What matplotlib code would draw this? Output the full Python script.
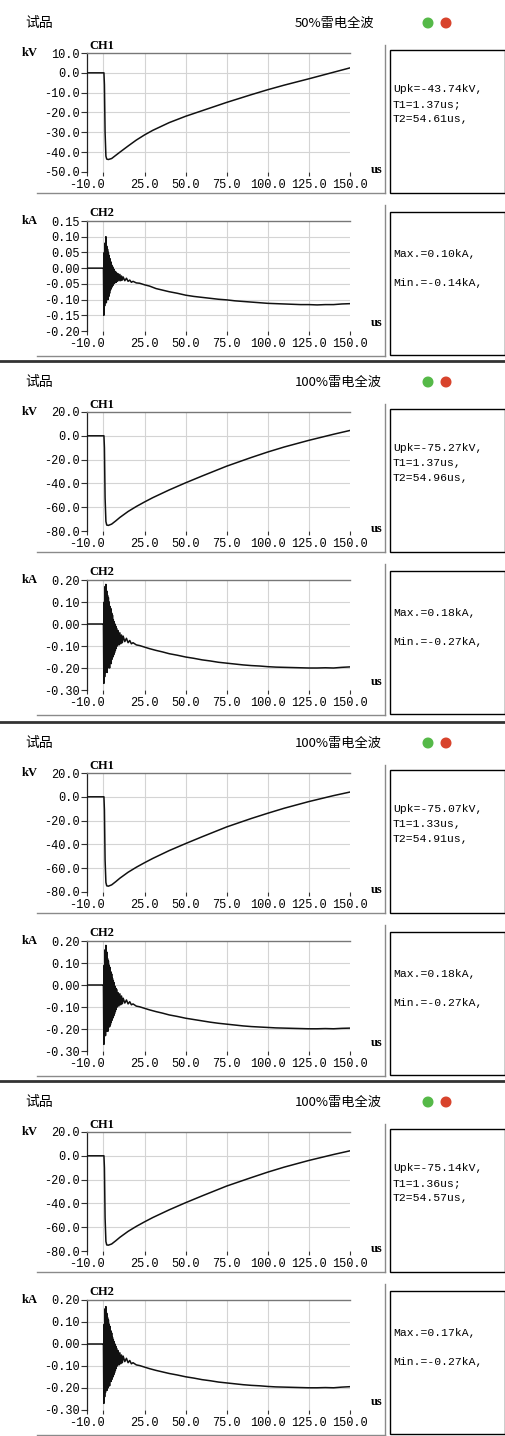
import matplotlib
matplotlib.use("Agg")
import matplotlib.pyplot as plt
from matplotlib.patches import Rectangle, Circle

# --- data ---
titles = ["50%雷电全波", "100%雷电全波", "100%雷电全波", "100%雷电全波"]
ch1_info = [
    ["Upk=-43.74kV,", "T1=1.37us;", "T2=54.61us,"],
    ["Upk=-75.27kV,", "T1=1.37us,", "T2=54.96us,"],
    ["Upk=-75.07kV,", "T1=1.33us,", "T2=54.91us,"],
    ["Upk=-75.14kV,", "T1=1.36us;", "T2=54.57us,"],
]
ch2_info = [
    ["Max.=0.10kA,", "Min.=-0.14kA,"],
    ["Max.=0.18kA,", "Min.=-0.27kA,"],
    ["Max.=0.18kA,", "Min.=-0.27kA,"],
    ["Max.=0.17kA,", "Min.=-0.27kA,"],
]

# CH1 voltage (kV)
t_volt = [-10, 0.3, 0.6, 1.0, 1.5, 2.0, 3.0, 5.0, 7.5, 10, 15, 20, 25, 30, 40,
          50, 60, 75, 90, 100, 110, 125, 140, 150]
volt_50 = [0, 0, -6, -30, -42, -43.5, -43.7, -43.2, -41.6, -40.0, -36.9, -33.9,
           -31.3, -29.0, -25.1, -21.9, -19.1, -14.9, -11.0, -8.5, -6.2, -3.0, 0.3, 2.5]
volt_100a = [0, 0, -10, -52, -72, -75.0, -75.3, -74.2, -71.5, -68.6, -63.6, -59.4,
             -55.6, -52.0, -45.5, -39.5, -33.8, -25.5, -18.2, -13.6, -9.4, -3.8, 1.3, 4.5]
volt_100b = [0, 0, -11, -53, -72, -74.8, -75.1, -74.0, -71.3, -68.4, -63.4, -59.2,
             -55.4, -51.8, -45.2, -39.3, -33.6, -25.3, -18.2, -13.8, -9.6, -4.0, 1.0, 4.0]
volt_100c = [0, 0, -10, -52, -72, -74.9, -75.1, -74.1, -71.4, -68.5, -63.5, -59.3,
             -55.5, -51.9, -45.4, -39.4, -33.7, -25.4, -18.3, -13.7, -9.5, -3.9, 1.1, 4.2]

# CH2 current (kA)
t_cur = [-10, -0.25,
         0.0, 0.25, 0.5, 0.75, 1.0, 1.25, 1.5, 1.75, 2.0, 2.25, 2.5, 2.75, 3.0, 3.25,
         3.5, 3.75, 4.0, 4.25, 4.5, 4.75, 5.0, 5.25, 5.5, 5.75, 6.0, 6.25, 6.5, 6.75,
         7.0, 7.25, 7.5, 7.75, 8.0,
         8.5, 9.0, 9.5, 10.0, 10.5, 11.0, 11.5, 12.0,
         13, 14, 15, 16, 17, 18,
         20, 22, 25, 28, 32, 36, 40,
         45, 50, 55, 60, 65, 70, 75, 80, 85, 90, 95, 100, 105, 110, 115, 120, 125,
         130, 135, 140, 145, 150]
cur_50 = [0.0, 0.0,
          0.0, -0.15, 0.05, -0.12, 0.08, -0.10, 0.10, -0.11, 0.07, -0.10, 0.06, -0.10,
          0.05, -0.09, 0.04, -0.08, 0.03, -0.07, 0.02, -0.065, 0.01, -0.06, 0.005,
          -0.055, 0.0, -0.05, -0.005, -0.048, -0.01, -0.045, -0.012, -0.045, -0.015,
          -0.042, -0.018, -0.04, -0.02, -0.04, -0.025, -0.038, -0.028,
          -0.04, -0.032, -0.042, -0.038, -0.045, -0.042,
          -0.047, -0.048, -0.053, -0.057, -0.065, -0.07, -0.075,
          -0.08, -0.086, -0.09, -0.093, -0.096, -0.099, -0.101, -0.104, -0.106, -0.108,
          -0.11, -0.112, -0.113, -0.114, -0.115, -0.116, -0.116, -0.117, -0.116,
          -0.116, -0.114, -0.113]
cur_100a = [0.0, 0.0,
            0.0, -0.27, 0.10, -0.24, 0.17, -0.22, 0.18, -0.21, 0.15, -0.22, 0.13, -0.20,
            0.12, -0.19, 0.10, -0.20, 0.08, -0.17, 0.07, -0.18, 0.05, -0.16, 0.04,
            -0.15, 0.02, -0.14, 0.01, -0.13, 0.0, -0.12, -0.01, -0.11, -0.02,
            -0.10, -0.03, -0.095, -0.04, -0.09, -0.05, -0.085, -0.055,
            -0.08, -0.065, -0.085, -0.075, -0.09, -0.085,
            -0.095, -0.098, -0.105, -0.112, -0.12, -0.127, -0.135,
            -0.142, -0.15, -0.156, -0.163, -0.168, -0.174, -0.178, -0.182, -0.186,
            -0.189, -0.191, -0.194, -0.196, -0.197, -0.198, -0.199, -0.2, -0.2,
            -0.199, -0.2, -0.197, -0.195]
cur_100b = [0.0, 0.0,
            0.0, -0.27, 0.09, -0.23, 0.16, -0.23, 0.18, -0.20, 0.15, -0.21, 0.12, -0.21,
            0.11, -0.19, 0.09, -0.19, 0.08, -0.18, 0.06, -0.17, 0.05, -0.16, 0.03,
            -0.15, 0.02, -0.14, 0.01, -0.13, -0.005, -0.12, -0.015, -0.11, -0.02,
            -0.10, -0.035, -0.095, -0.04, -0.09, -0.05, -0.085, -0.06,
            -0.082, -0.068, -0.086, -0.076, -0.09, -0.086,
            -0.096, -0.099, -0.106, -0.113, -0.121, -0.128, -0.136,
            -0.143, -0.151, -0.157, -0.163, -0.169, -0.174, -0.178, -0.182, -0.186,
            -0.189, -0.191, -0.193, -0.195, -0.196, -0.197, -0.198, -0.199, -0.199,
            -0.198, -0.199, -0.197, -0.196]
cur_100c = [0.0, 0.0,
            0.0, -0.27, 0.09, -0.24, 0.16, -0.22, 0.17, -0.21, 0.14, -0.21, 0.12, -0.20,
            0.11, -0.19, 0.09, -0.19, 0.08, -0.17, 0.06, -0.17, 0.05, -0.16, 0.03,
            -0.15, 0.02, -0.14, 0.01, -0.13, 0.0, -0.12, -0.01, -0.11, -0.02,
            -0.10, -0.03, -0.095, -0.04, -0.09, -0.05, -0.085, -0.055,
            -0.08, -0.065, -0.085, -0.075, -0.09, -0.085,
            -0.095, -0.098, -0.105, -0.112, -0.12, -0.127, -0.134,
            -0.141, -0.149, -0.155, -0.162, -0.167, -0.173, -0.177, -0.181, -0.185,
            -0.188, -0.19, -0.193, -0.195, -0.196, -0.197, -0.198, -0.199, -0.199,
            -0.198, -0.199, -0.196, -0.194]

volts = [volt_50, volt_100a, volt_100b, volt_100c]
currents = [cur_50, cur_100a, cur_100b, cur_100c]

x_ticks = [-10, 0, 25, 50, 75, 100, 125, 150]
x_labels = ["-10.0", "", "25.0", "50.0", "75.0", "100.0", "125.0", "150.0"]
v_ticks_50 = [-50, -40, -30, -20, -10, 0, 10]
v_ticks_100 = [-80, -60, -40, -20, 0, 20]
i_ticks_50 = [-0.20, -0.15, -0.10, -0.05, 0.0, 0.05, 0.10, 0.15]
i_ticks_100 = [-0.30, -0.20, -0.10, 0.0, 0.10, 0.20]

# --- layout (pixels) ---
W, H = 506, 1436
offsets = [0, 359, 720, 1079]
MONO = "Liberation Mono"
SERIF = "Liberation Serif"
CJK = ["Noto Sans CJK SC", "DejaVu Sans"]

fig = plt.figure(figsize=(W / 100, H / 100), dpi=100)
fig.patch.set_facecolor("white")
bg = fig.add_axes([0, 0, 1, 1])
bg.set_xlim(0, W)
bg.set_ylim(H, 0)
bg.axis("off")


def px_axes(left, top, right, bottom):
    return fig.add_axes([left / W, 1 - bottom / H, (right - left) / W, (bottom - top) / H])


def draw_channel(top, bottom, t, y, ticks, fmt):
    ax = px_axes(87, top, 350, bottom)
    ax.set_facecolor("none")
    for xv in [0, 25, 50, 75, 100, 125]:
        ax.axvline(xv, color="#d4d4d4", lw=0.8, zorder=0)
    for yv in ticks[1:-1]:
        ax.axhline(yv, color="#d4d4d4", lw=0.8, zorder=0)
    ax.plot(t, y, color="#111111", lw=1.1, zorder=3)
    ax.set_xlim(-10, 150)
    ax.set_ylim(ticks[0], ticks[-1])
    ax.set_xticks(x_ticks)
    ax.set_xticklabels(x_labels)
    ax.set_yticks(ticks)
    ax.set_yticklabels([fmt % v for v in ticks])
    for lab in ax.get_xticklabels() + ax.get_yticklabels():
        lab.set_fontfamily(MONO)
        lab.set_fontsize(8.6)
    ax.tick_params(axis="x", length=3, width=0.8, pad=2, color="#333333")
    ax.tick_params(axis="y", length=4, width=0.8, pad=1, color="#333333")
    ax.spines["right"].set_visible(False)
    ax.spines["bottom"].set_visible(False)
    ax.spines["top"].set_color("#777777")
    ax.spines["top"].set_linewidth(1.0)
    ax.spines["left"].set_color("#222222")
    ax.spines["left"].set_linewidth(0.9)
    return ax


for k, off in enumerate(offsets):
    first = (k == 0)
    # header
    bg.text(25, off + 23, "试品", fontsize=10, family=CJK, va="center", ha="left")
    bg.text(295, off + 23, titles[k], fontsize=9.5, family=CJK, va="center", ha="left")
    bg.add_patch(Circle((428, off + 23), 4.8, color="#55b948"))
    bg.add_patch(Circle((446, off + 23), 4.8, color="#d8432c"))

    # CH1
    draw_channel(off + 53, off + 172, t_volt, volts[k],
                 v_ticks_50 if first else v_ticks_100, "%.1f")
    bg.text(22, off + 53, "kV", fontsize=9, family=SERIF, weight="bold", va="center")
    bg.text(89, off + 46, "CH1", fontsize=9, family=SERIF, weight="bold", va="center")
    bg.text(371, off + 170, "us", fontsize=9, family=SERIF, weight="bold", va="center")
    bg.plot([37, 385], [off + 193, off + 193], color="#8a8a8a", lw=1)
    bg.plot([385, 385], [off + 45, off + 193], color="#8a8a8a", lw=1)
    bg.add_patch(Rectangle((390, off + 50), 115, 143, fill=False, ec="black", lw=1))
    for j, line in enumerate(ch1_info[k]):
        bg.text(393, off + 89 + j * 15, line, fontsize=8.2, family=MONO, va="center")

    # CH2
    draw_channel(off + 221, off + 331, t_cur, currents[k],
                 i_ticks_50 if first else i_ticks_100, "%.2f")
    bg.text(22, off + 221, "kA", fontsize=9, family=SERIF, weight="bold", va="center")
    bg.text(89, off + 213, "CH2", fontsize=9, family=SERIF, weight="bold", va="center")
    bg.text(371, off + 323, "us", fontsize=9, family=SERIF, weight="bold", va="center")
    bg.plot([37, 385], [off + 356, off + 356], color="#8a8a8a", lw=1)
    bg.plot([385, 385], [off + 205, off + 356], color="#8a8a8a", lw=1)
    bg.add_patch(Rectangle((390, off + 212), 115, 143, fill=False, ec="black", lw=1))
    bg.text(393, off + 254, ch2_info[k][0], fontsize=8.2, family=MONO, va="center")
    bg.text(393, off + 283, ch2_info[k][1], fontsize=8.2, family=MONO, va="center")

    # separator under the panel
    if k < 3:
        sep = offsets[k + 1] + 2
        bg.plot([0, W], [sep, sep], color="#333333", lw=2)

fig.savefig("out.png", dpi=100, facecolor="white")
